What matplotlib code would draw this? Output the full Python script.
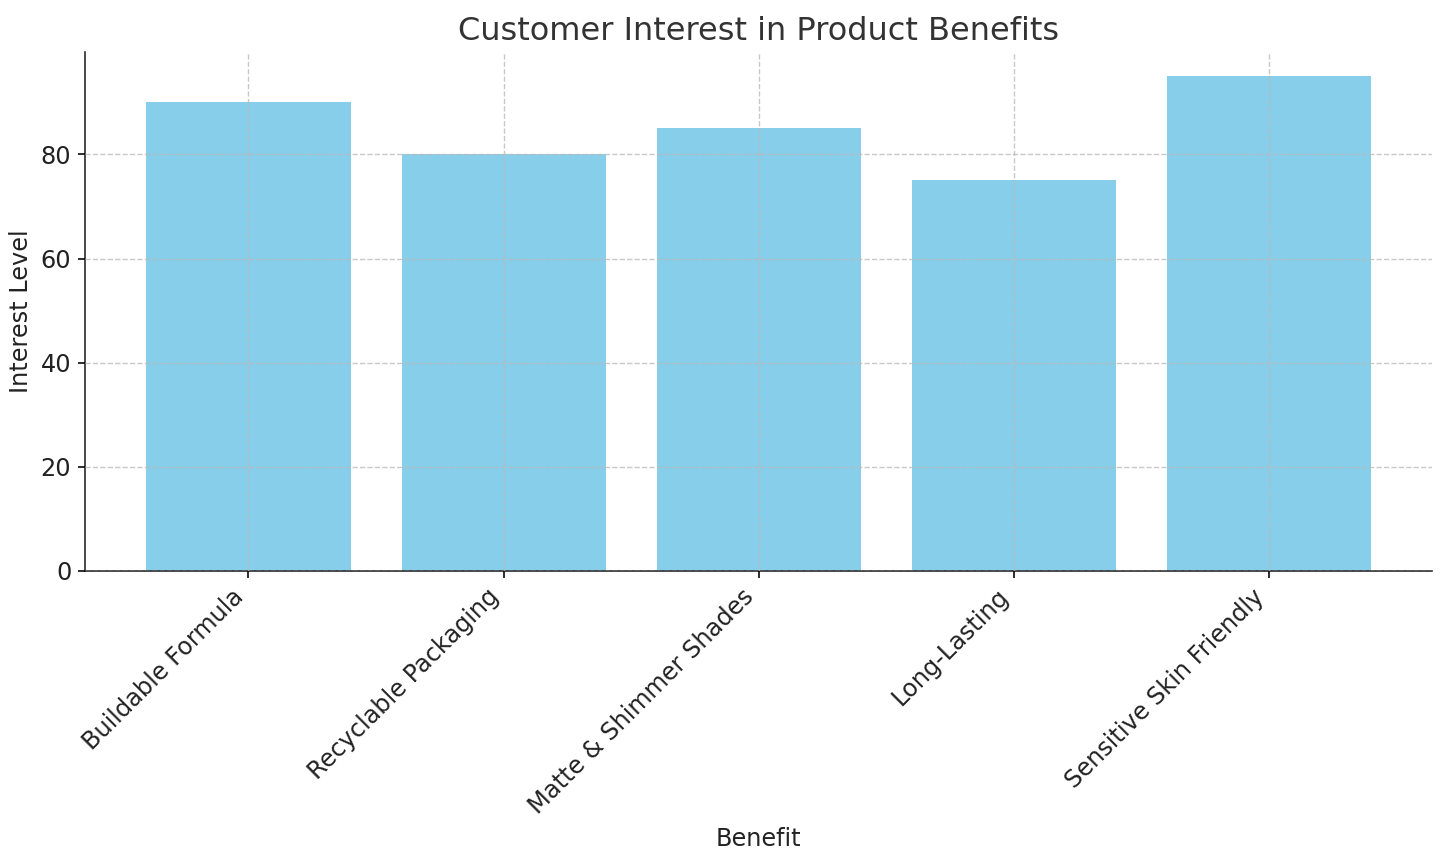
import matplotlib.pyplot as plt

# 数据
benefits = ["Buildable Formula", "Recyclable Packaging", "Matte & Shimmer Shades",
            "Long-Lasting", "Sensitive Skin Friendly"]
interest = [90, 80, 85, 75, 95]


def main():
    fig, ax = plt.subplots(figsize=(1445 / 144, 862 / 144), dpi=144)
    ax.bar(benefits, interest, color="skyblue", zorder=1)

    ax.set_title("Customer Interest in Product Benefits", fontsize=16, color="#333333")
    ax.set_xlabel("Benefit", fontsize=12, color="#222222")
    ax.set_ylabel("Interest Level", fontsize=12, color="#222222")
    plt.xticks(rotation=45, ha="right", fontsize=12, color="#222222")
    plt.yticks(fontsize=12, color="#222222")
    ax.grid(True, linestyle="--", color="#bbbbbb", linewidth=0.7, alpha=0.8, zorder=2)
    ax.set_axisbelow(False)

    ax.spines["top"].set_visible(False)
    ax.spines["right"].set_visible(False)
    ax.spines["left"].set_color("#222222")
    ax.spines["bottom"].set_color("#222222")

    fig.subplots_adjust(left=0.059, right=0.991, top=0.94, bottom=0.338)
    fig.savefig("out.png")


if __name__ == "__main__":
    main()
